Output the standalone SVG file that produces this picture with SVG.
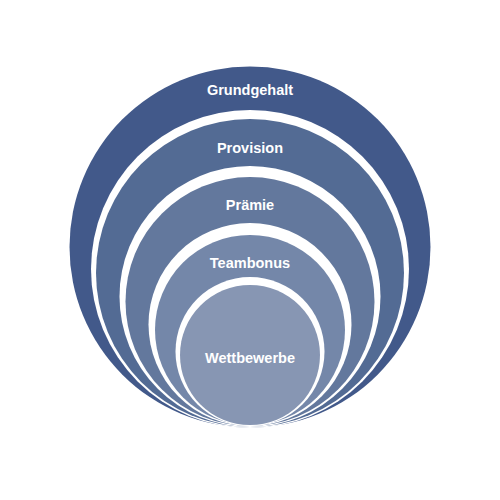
<svg xmlns="http://www.w3.org/2000/svg" width="500" height="500" viewBox="0 0 500 500">
<style>
.halo{fill:#ffffff}
.lbl{font-family:"Liberation Sans",Arial,sans-serif;font-weight:bold;font-size:14.5px;fill:#ffffff;text-anchor:middle}
</style>
<rect width="500" height="500" fill="#ffffff"/>
<g id="grundgehalt">
<circle cx="250" cy="247" r="180.5" fill="#42598a"/>
<text class="lbl" x="250" y="95">Grundgehalt</text>
</g>
<g id="provision">
<circle class="halo" cx="250" cy="269" r="159"/>
<circle cx="250" cy="273" r="154" fill="#536b94"/>
<text class="lbl" x="250" y="153">Provision</text>
</g>
<g id="praemie">
<circle class="halo" cx="250" cy="296.5" r="130.5"/>
<circle cx="250" cy="301.5" r="124.5" fill="#63789d"/>
<text class="lbl" x="250" y="210">Prämie</text>
</g>
<g id="teambonus">
<circle class="halo" cx="250" cy="324.5" r="101.5"/>
<circle cx="250" cy="330" r="95" fill="#7487a9"/>
<text class="lbl" x="250" y="268">Teambonus</text>
</g>
<g id="wettbewerbe">
<circle class="halo" cx="250" cy="351.5" r="74.5"/>
<circle cx="250" cy="355" r="70" fill="#8796b3"/>
<text class="lbl" x="250" y="363">Wettbewerbe</text>
</g>
<g id="connectors"/>
</svg>
